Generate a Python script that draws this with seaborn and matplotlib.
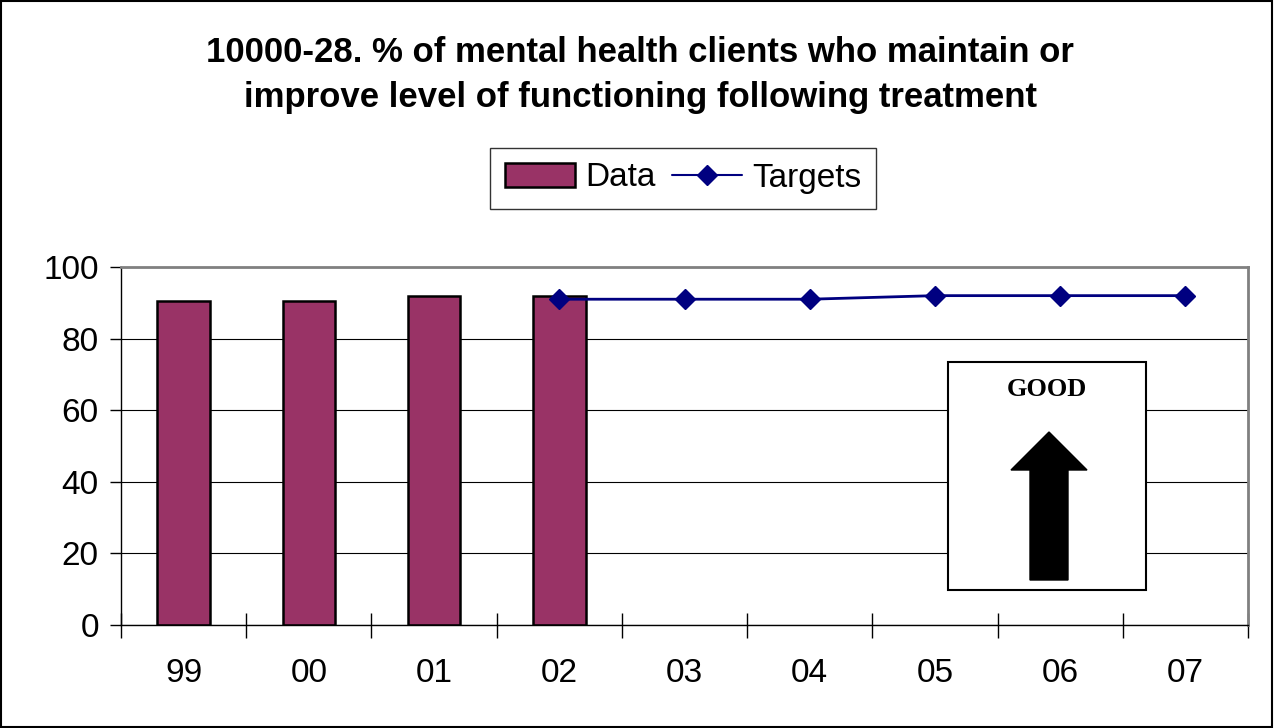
import numpy as np
import pandas as pd
import matplotlib
matplotlib.use("Agg")
import matplotlib.pyplot as plt
import seaborn as sns
from matplotlib.patches import Rectangle, Patch
from matplotlib.lines import Line2D

years = ["99", "00", "01", "02", "03", "04", "05", "06", "07"]
data_vals = [90.5, 90.5, 92, 92, np.nan, np.nan, np.nan, np.nan, np.nan]
target_vals = [np.nan, np.nan, np.nan, 91, 91, 91, 92, 92, 92]
title = "10000-28. % of mental health clients who maintain or\nimprove level of functioning following treatment"

sns.set_theme(style="white")
plt.rcParams['font.family'] = ['Liberation Sans', 'DejaVu Sans']
plt.rcParams['text.color'] = 'black'
plt.rcParams['xtick.color'] = 'black'
plt.rcParams['ytick.color'] = 'black'

bar_color = "#993366"
line_color = "#000080"

fig = plt.figure(figsize=(12.75, 7.28), dpi=100)
ax = fig.add_axes([121 / 1275, 1 - 625 / 728, 1127 / 1275, 358 / 728])

df = pd.DataFrame({"year": years, "Data": data_vals, "Targets": target_vals})
sns.barplot(data=df, x="year", y="Data", order=years, color=bar_color,
            width=0.42, edgecolor="black", linewidth=1.8, saturation=1, ax=ax)
xpos = np.arange(len(years))
ax.plot(xpos, df["Targets"], color=line_color, marker="D", markersize=10,
        linewidth=2, zorder=4)

ax.set_xlim(-0.5, len(years) - 0.5)
ax.set_ylim(0, 100)
ax.set_yticks(range(0, 101, 20))
ax.set_xlabel("")
ax.set_ylabel("")
ax.yaxis.grid(True, color="black", linewidth=0.8)
ax.set_axisbelow(True)

# x ticks at category boundaries, labels centred under categories
ax.set_xticks(np.arange(-0.5, len(years), 1.0))
ax.set_xticklabels([])
ax.set_xticks(xpos, minor=True)
ax.set_xticklabels(years, minor=True)
ax.tick_params(axis="x", which="major", bottom=True, direction="inout", length=18,
               width=1, color="black")
ax.tick_params(axis="x", which="minor", bottom=False, length=0, pad=24, labelsize=24)
ax.tick_params(axis="y", left=True, direction="out", length=8, width=1, color="black",
               labelsize=24, pad=8)

for side in ["left", "bottom"]:
    ax.spines[side].set_color("black")
    ax.spines[side].set_linewidth(1)
for side in ["top", "right"]:
    ax.spines[side].set_color("#808080")
    ax.spines[side].set_linewidth(2)

# GOOD box with arrow
bx0, bx1 = (948 - 121) / 1127, (1146 - 121) / 1127
by0, by1 = (625 - 590) / 358, (625 - 362) / 358
ax.add_patch(Rectangle((bx0, by0), bx1 - bx0, by1 - by0, transform=ax.transAxes,
                       facecolor="white", edgecolor="black", linewidth=1.5, zorder=5))
ax.text((bx0 + bx1) / 2, (625 - 390) / 358, "GOOD", transform=ax.transAxes,
        ha="center", va="center", fontsize=19, fontweight="bold",
        family=["Liberation Serif", "DejaVu Serif"], zorder=6)

ax_x = (1049 - 121) / 1127
shaft_w = 38 / 1127
head_w = 76 / 1127
y_tail = (625 - 580) / 358
y_base = (625 - 470) / 358
y_tip = (625 - 432) / 358
arrow_xy = [
    (ax_x - shaft_w / 2, y_tail), (ax_x + shaft_w / 2, y_tail),
    (ax_x + shaft_w / 2, y_base), (ax_x + head_w / 2, y_base),
    (ax_x, y_tip), (ax_x - head_w / 2, y_base),
    (ax_x - shaft_w / 2, y_base),
]
ax.add_patch(plt.Polygon(arrow_xy, closed=True, transform=ax.transAxes,
                         facecolor="black", edgecolor="black", zorder=6))

# legend
handles = [Patch(facecolor=bar_color, edgecolor="black", linewidth=1.8),
           Line2D([0], [0], color=line_color, marker="D", markersize=10, linewidth=1.5)]
leg = fig.legend(handles, ["Data", "Targets"], loc="center",
                 bbox_to_anchor=(683 / 1275, 1 - 178 / 728), ncol=2,
                 fontsize=24, frameon=True, fancybox=False, edgecolor="black",
                 handlelength=2.1, handletextpad=0.3, columnspacing=0.5,
                 borderpad=0.45)
leg.get_frame().set_linewidth(1)

fig.text(0.502, 1 - 75 / 728, title, ha="center", va="center",
         fontsize=25, fontweight="bold", linespacing=1.45)

# outer border
fig.patches.append(Rectangle((0.001, 0.002), 0.997, 0.996, transform=fig.transFigure,
                             fill=False, edgecolor="black", linewidth=1.5))

fig.savefig("out.png", dpi=100)
